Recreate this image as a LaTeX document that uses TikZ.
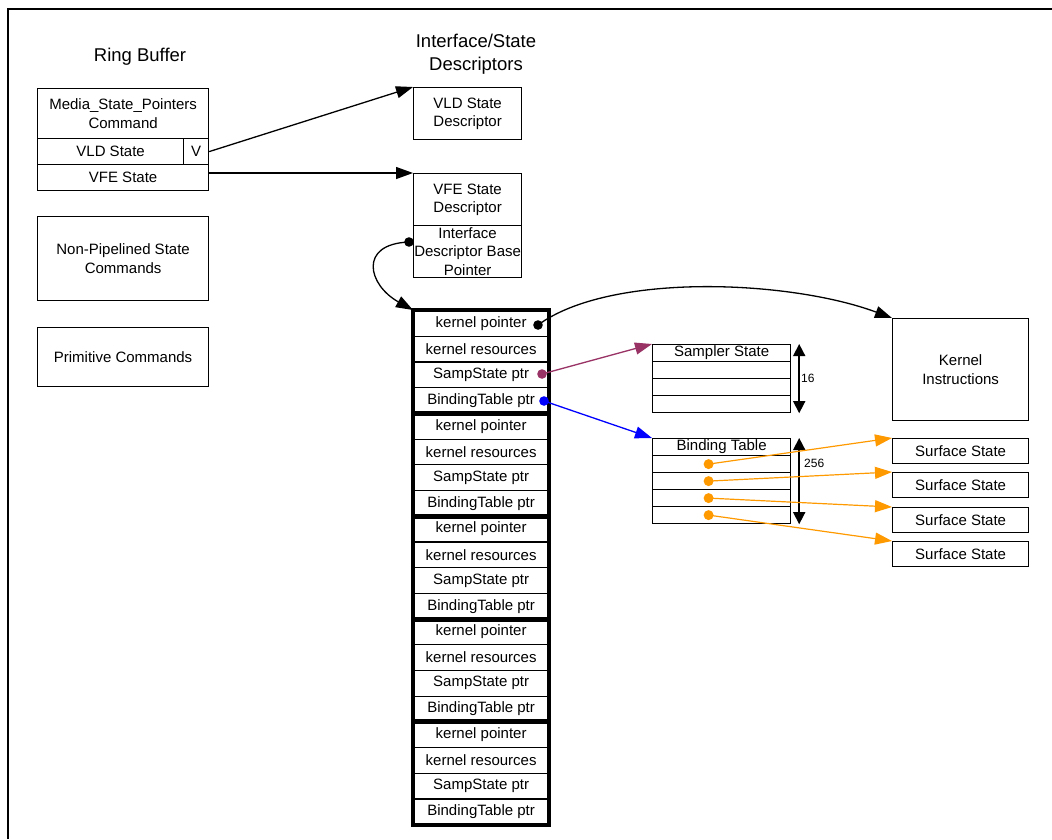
\documentclass[tikz,border=0pt]{standalone}
\usepackage{fontspec}
\setmainfont{Liberation Sans}
\usetikzlibrary{arrows.meta}
\definecolor{sampc}{HTML}{993366}
\definecolor{bindc}{HTML}{0000FF}
\definecolor{surfc}{HTML}{FF9900}
\begin{document}
\begin{tikzpicture}[x=1pt,y=-1pt,
  every node/.style={font=\fontsize{15}{18.5}\selectfont, inner sep=0pt, align=center},
  cell/.style 2 args={draw, line width=1.2pt, anchor=north west, minimum width=#1pt, minimum height=#2pt},
  title/.style={font=\fontsize{18.5}{23.5}\selectfont},
  small/.style={font=\fontsize{12}{14}\selectfont, anchor=west},
  conn/.style={line width=1.3pt, -{Triangle[length=17pt,width=12pt]}},
  dbl/.style={line width=1.6pt, {Triangle[length=12pt,width=12pt]}-{Triangle[length=12pt,width=12pt]}},
  group/.style={line width=3.8pt, line join=miter},
  dotc/.style={radius=4.8pt}
]
\useasboundingbox (0,0) rectangle (1052,839);
% frame
\draw[line width=2.4pt] (8,839) -- (8,9) -- (1052,9);

% titles
\node[title] (rbtitle) at (140,57) {Ring Buffer};
\node[title] (istitle) at (476,54) {Interface/State\\Descriptors};

% ring buffer
\node[cell={171}{50}] (media) at (37,88) {Media\_State\_Pointers\\Command};
\node[cell={146}{26}] (vld) at (37,138) {VLD State};
\node[cell={25}{26}] (vflag) at (183,138) {V};
\node[cell={171}{26}] (vfe) at (37,164) {VFE State};
\node[cell={171}{84}] (npsc) at (37,216) {Non-Pipelined State\\Commands};
\node[cell={171}{59}] (prim) at (37,327) {Primitive Commands};

% descriptors
\node[cell={108}{52}] (vlddesc) at (413,87) {VLD State\\Descriptor};
\node[cell={108}{52}] (vfedesc) at (413,173) {VFE State\\Descriptor};
\node[cell={108}{52}] (ibp) at (413,225) {Interface\\Descriptor Base\\Pointer};

% interface descriptor array
\foreach \lab [count=\i] in {kernel pointer, kernel resources, SampState ptr, BindingTable ptr,
  kernel pointer, kernel resources, SampState ptr, BindingTable ptr,
  kernel pointer, kernel resources, SampState ptr, BindingTable ptr,
  kernel pointer, kernel resources, SampState ptr, BindingTable ptr,
  kernel pointer, kernel resources, SampState ptr, BindingTable ptr}
  \node[cell={135}{25.7}] (k\i) at (413,{310+25.7*(\i-1)}) {\lab};
\foreach \g in {0,...,4}{
  \pgfmathtruncatemacro\ga{4*\g+1}
  \pgfmathtruncatemacro\gb{4*\g+4}
  \draw[group] (k\ga.north west) rectangle (k\gb.south east);
}

% kernel instructions
\node[cell={136}{102}] (kinst) at (892,318) {Kernel\\Instructions};

% sampler state table
\node[cell={138}{17}] (s0) at (652,344) {Sampler State};
\node[cell={138}{17}] (s1) at (652,361) {};
\node[cell={138}{17}] (s2) at (652,378) {};
\node[cell={138}{17}] (s3) at (652,395) {};
\draw[dbl] ([xshift=8pt]s0.north east) -- ([xshift=8pt]s3.south east);
\node[small] (n16) at (801,378) {16};

% binding table
\node[cell={138}{17}] (bt0) at (652,438) {Binding Table};
\node[cell={138}{17}] (bt1) at (652,455) {};
\node[cell={138}{17}] (bt2) at (652,472) {};
\node[cell={138}{17}] (bt3) at (652,489) {};
\node[cell={138}{17}] (bt4) at (652,506) {};
\draw[dbl] ([xshift=8pt]bt0.north east) -- ([xshift=8pt]bt4.south east);
\node[small] (n256) at (804,463) {256};

% surface states
\node[cell={136}{25}] (ss1) at (892,438) {Surface State};
\node[cell={136}{25}] (ss2) at (892,472) {Surface State};
\node[cell={136}{25}] (ss3) at (892,507) {Surface State};
\node[cell={136}{25}] (ss4) at (892,541) {Surface State};

% connector end coordinates
\coordinate (vfeout) at (vfe.east |- vfedesc.north west);
\coordinate (ibpdot) at (409,242);
\coordinate (kdot) at (538,325);
\coordinate (sdot) at (542,374);
\coordinate (bdot) at (544,401);
\foreach \i in {1,...,4} \coordinate (o\i) at ([xshift=-13pt]bt\i.center);

% connectors
\draw[conn] (vflag.east) -- (vlddesc.north west);
\draw[conn] (vfeout) -- (vfedesc.north west);
\draw[conn] (ibpdot) .. controls (358,244) and (368,285) .. (k1.north west);
\draw[conn] (kdot) .. controls (610,272) and (790,280) .. (kinst.north west);
\draw[conn, sampc] (sdot) -- (s0.north west);
\draw[conn, bindc] (bdot) -- (bt0.north west);
\draw[conn, surfc, line width=1.2pt] (o1) -- (ss1.north west);
\draw[conn, surfc, line width=1.2pt] (o2) -- (ss2.north west);
\draw[conn, surfc, line width=1.2pt] (o3) -- (ss3.north west);
\draw[conn, surfc, line width=1.2pt] (o4) -- (ss4.north west);

% dots
\fill (ibpdot) circle[dotc];
\fill (kdot) circle[dotc];
\fill[sampc] (sdot) circle[dotc];
\fill[bindc] (bdot) circle[dotc];
\foreach \i in {1,...,4} \fill[surfc] (o\i) circle[radius=5pt];
\end{tikzpicture}
\end{document}
